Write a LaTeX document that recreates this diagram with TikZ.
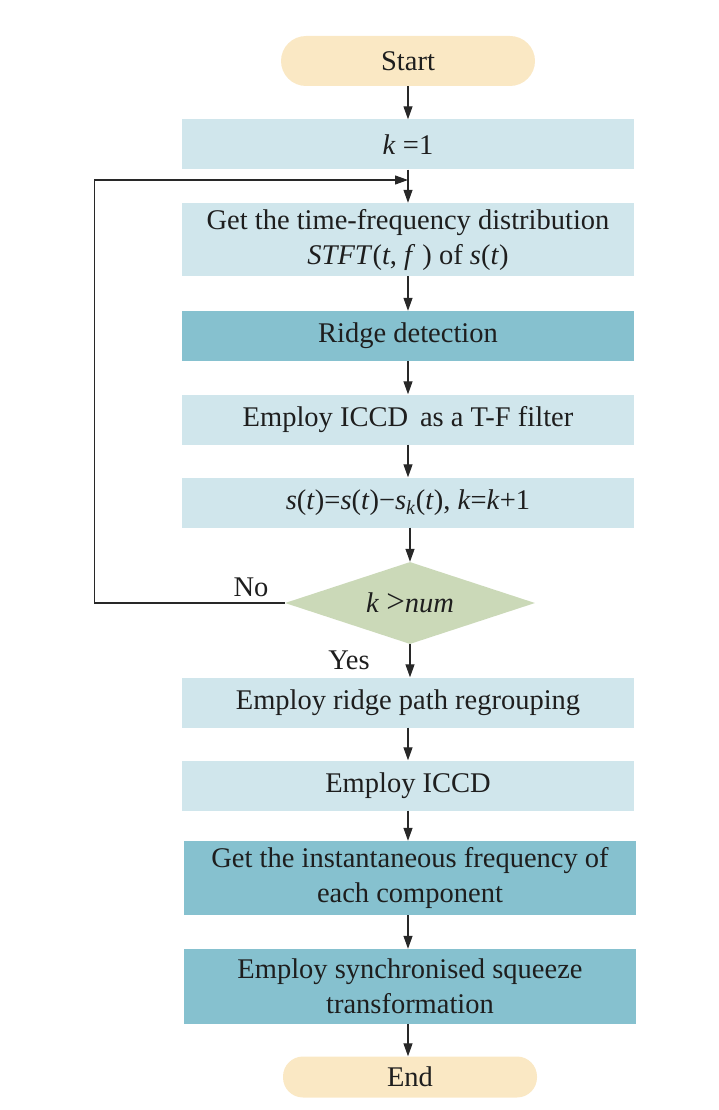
\documentclass[tikz,border=0pt]{standalone}
\usepackage{fontspec}
\setmainfont{Liberation Serif}
\usetikzlibrary{shapes.geometric,arrows.meta}
\definecolor{lblue}{RGB}{208,230,236}
\definecolor{dblue}{RGB}{134,193,207}
\definecolor{beige}{RGB}{250,232,196}
\definecolor{dgreen}{RGB}{203,217,184}
\definecolor{txt}{RGB}{30,30,30}
\definecolor{ln}{RGB}{40,40,40}
\begin{document}
\begin{tikzpicture}[x=1pt,y=-1pt,
  every node/.style={font=\fontsize{28.5}{35}\selectfont, text=txt, inner sep=0pt, align=center},
  term/.style={rounded corners=25pt, fill=beige, minimum width=254pt, minimum height=50pt},
  lbox/.style={fill=lblue, minimum width=452pt, minimum height=50pt},
  dbox/.style={fill=dblue, minimum width=452pt, minimum height=50pt},
  decis/.style={diamond, fill=dgreen, aspect=3.05, minimum width=250pt, minimum height=82pt},
  conn/.style={draw=ln, line width=1.2pt, -{Triangle[length=13pt,width=9pt]}}]
\useasboundingbox (0,0) rectangle (719,1110);
\node[term] (start) at (408,61) {Start};
\node[lbox] (k1) at (408,144.5) {\textit{k} =1};
\node[lbox, minimum height=73pt] (tf) at (408,239.5) {Get the time-frequency distribution\\\textit{STFT}(\textit{t}, \textit{f} ) of \textit{s}(\textit{t})};
\node[dbox] (ridge) at (408,336) {Ridge detection};
\node[lbox] (iccdf) at (408,419.5) {Employ ICCD\, as a T-F filter};
\node[lbox] (sub) at (408,502.5) {\textit{s}(\textit{t})=\textit{s}(\textit{t})−\textit{s}\textsubscript{\textit{k}}(\textit{t}), \textit{k}=\textit{k}+1};
\node[decis] (dec) at (410,603) {\textit{k} {\fontsize{33}{35}\selectfont >}\textit{num}};
\node[lbox] (regroup) at (408,702.5) {Employ ridge path regrouping};
\node[lbox] (iccd) at (408,785.5) {Employ ICCD};
\node[dbox, minimum height=74pt] (inst) at (410,878) {Get the instantaneous frequency of\\each component};
\node[dbox, minimum height=75pt] (sst) at (410,986.5) {Employ synchronised squeeze\\transformation};
\node[term, minimum height=41pt, rounded corners=20pt] (end) at (410,1077) {End};
\coordinate (fb) at (408,180);
\node (no) at (251,587) {No};
\node (yes) at (349,660) {Yes};
\draw[conn] (start) -- (k1);
\draw[conn] (k1) -- (tf);
\draw[conn] (tf) -- (ridge);
\draw[conn] (ridge) -- (iccdf);
\draw[conn] (iccdf) -- (sub);
\draw[conn] (sub.south -| dec.north) -- (dec.north);
\draw[conn] (dec.south) -- (regroup.north -| dec.south);
\draw[conn] (regroup) -- (iccd);
\draw[conn] (iccd.south) -- (inst.north -| iccd.south);
\draw[conn] (inst.south -| iccd.south) -- (sst.north -| iccd.south);
\draw[conn] (sst.south -| iccd.south) -- (end.north -| iccd.south);
\draw[conn] (dec.west) -- ++(-190,0) |- (fb);
\end{tikzpicture}
\end{document}
